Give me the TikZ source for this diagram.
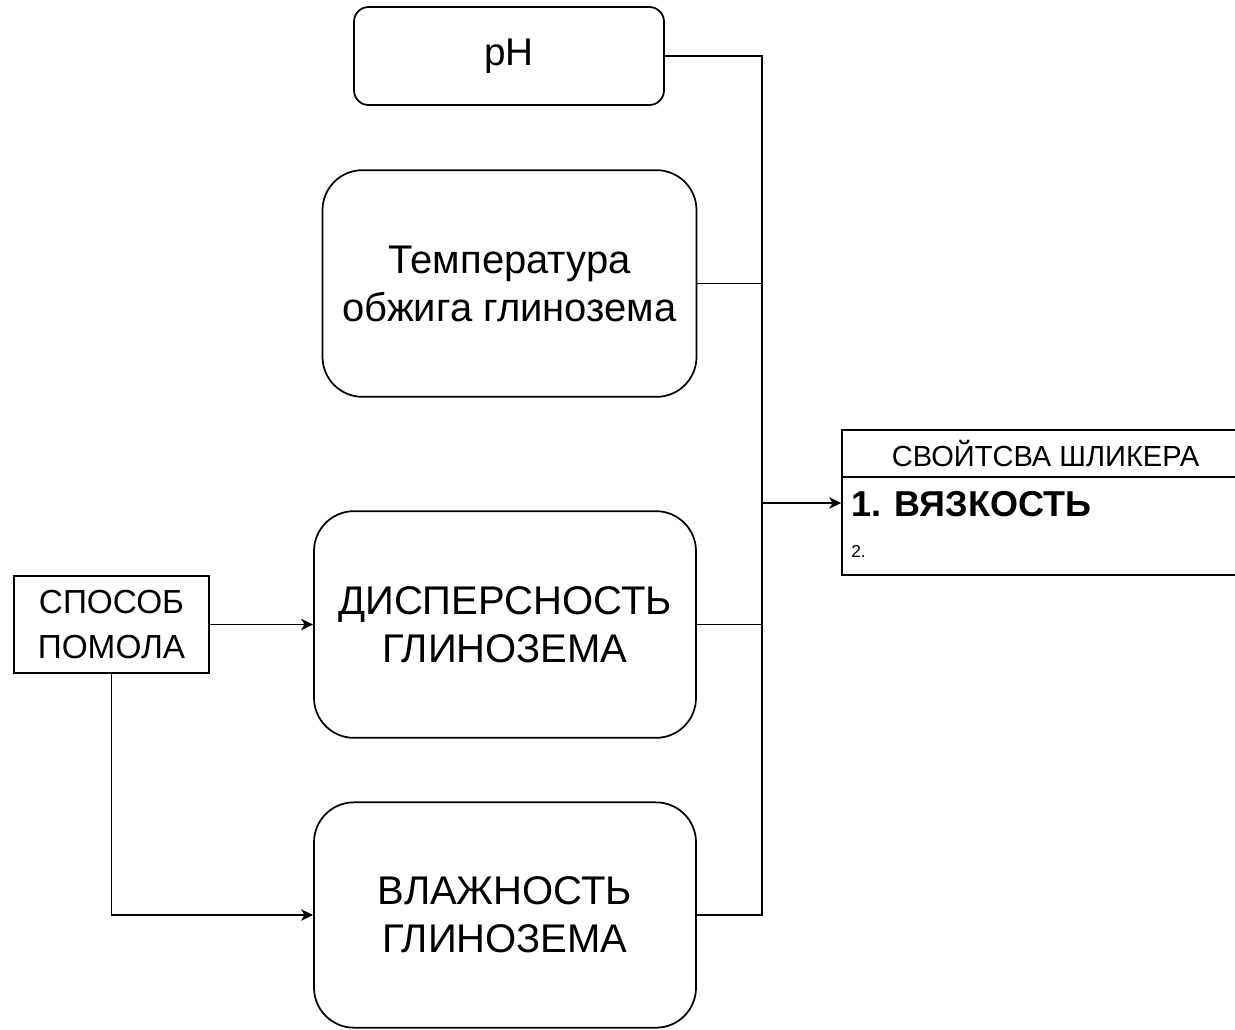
\documentclass[tikz,border=0pt]{standalone}
\usepackage{fontspec}
\setmainfont{Liberation Sans}
\usetikzlibrary{arrows.meta}

\tikzset{
  factor/.style={draw, line width=1.3pt, rounded corners=30pt, align=center, inner sep=0pt,
    font=\fontsize{30}{36}\selectfont},
  plain box/.style={draw, line width=1.3pt, inner sep=0pt},
  link/.style={line width=1.3pt},
  arrow/.style={line width=1.3pt, -{Stealth[length=9pt, width=8.5pt, inset=2.5pt]}}
}

\begin{document}
\begin{tikzpicture}[x=0.75pt, y=-0.75pt]
\useasboundingbox (0,0) rectangle (1235,1029);

\path (509, 56) node[factor, rounded corners=11pt, minimum width=232.5pt, minimum height=73.5pt, font=\fontsize{29}{35}\selectfont] (ph) {pH};

\path (509.5, 283.5) node[factor, minimum width=280.5pt, minimum height=170pt] (temp) {Температура\\обжига глинозема};

\path (505, 624.5) node[factor, minimum width=286.5pt, minimum height=170pt] (disp) {ДИСПЕРСНОСТЬ\\ГЛИНОЗЕМА};

\path (505, 915) node[factor, minimum width=286.5pt, minimum height=169pt] (humid) {ВЛАЖНОСТЬ\\ГЛИНОЗЕМА};

\path (111.5, 624.5) node[plain box, minimum width=146pt, minimum height=73pt, align=center, font=\fontsize{25}{33.5}\selectfont] (method) {СПОСОБ\\ПОМОЛА};

% slip properties box
\path (1045.5, 453.5) node[plain box, minimum width=305pt, minimum height=35pt, font=\fontsize{21.8}{25}\selectfont] (props_head) {СВОЙТСВА ШЛИКЕРА};
\path (1045.5, 526) node[plain box, minimum width=305pt, minimum height=73.5pt] (props_body) {};
\path (851, 516.5) node[anchor=base west, inner sep=0pt, font=\fontsize{27}{30}\selectfont\bfseries] (viscosity) {1. ВЯЗКОСТЬ};
\path (851, 557.5) node[anchor=base west, inner sep=0pt, font=\fontsize{13}{16}\selectfont] (second) {2.};

% collecting line
\coordinate (bus) at (762, 0);
\coordinate (join) at (762, 503);

\draw[link] (ph.east) -| (humid.east -| bus) -- (humid.east);
\draw[link] (temp.east) -- (temp.east -| bus);
\draw[link] (disp.east) -- (disp.east -| bus);
\draw[arrow] (join) -- (join -| props_body.west);

\draw[arrow] (method.east) -- (disp.west);
\draw[arrow] (method.south) |- (humid.west);
\end{tikzpicture}
\end{document}
